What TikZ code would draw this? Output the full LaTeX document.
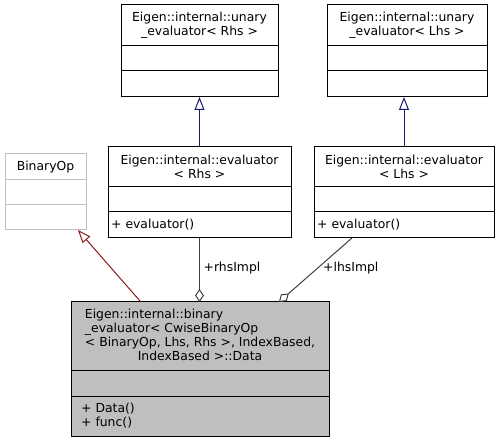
\documentclass[tikz,border=0pt]{standalone}
\usepackage{fontspec}
\setmainfont{DejaVu Sans}
\usetikzlibrary{arrows.meta,calc}
\definecolor{mblue}{HTML}{191970}
\definecolor{fbrick}{HTML}{8B1A1A}
\definecolor{gdark}{HTML}{404040}
\definecolor{glight}{HTML}{BFBFBF}
\begin{document}
\begin{tikzpicture}[x=1pt,y=-1pt,
  font=\fontsize{12.4}{14.2}\selectfont,
  cls/.style={draw=black, line width=1pt, inner sep=0pt, outer sep=0pt, fill=white},
  txt/.style={inner sep=0pt, align=center},
  sep/.style={line width=1pt},
  inh/.style={line width=1pt, -{Triangle[open, length=13pt, width=10pt]}},
  comp/.style={draw=gdark, line width=1pt, -{Diamond[open, length=13pt, width=9pt]}},
  lbl/.style={inner sep=0pt, anchor=west}]
\useasboundingbox (0,0) rectangle (501,443);

% unary evaluator Rhs
\node[cls, minimum width=157pt, minimum height=92pt] (ur) at (199.5,51) {};
\draw[sep] ($(ur.north west)+(0,41)$) -- ($(ur.north east)+(0,41)$);
\draw[sep] ($(ur.north west)+(0,66)$) -- ($(ur.north east)+(0,66)$);
\node[txt] (urt) at (199.5,25.5) {Eigen::internal::unary\\\_evaluator< Rhs >};

% unary evaluator Lhs
\node[cls, minimum width=160pt, minimum height=92pt] (ul) at (407,51) {};
\draw[sep] ($(ul.north west)+(0,41)$) -- ($(ul.north east)+(0,41)$);
\draw[sep] ($(ul.north west)+(0,66)$) -- ($(ul.north east)+(0,66)$);
\node[txt] (ult) at (407,25.5) {Eigen::internal::unary\\\_evaluator< Lhs >};

% evaluator Rhs
\node[cls, minimum width=183pt, minimum height=91pt] (er) at (199.5,192.5) {};
\draw[sep] ($(er.north west)+(0,40)$) -- ($(er.north east)+(0,40)$);
\draw[sep] ($(er.north west)+(0,65)$) -- ($(er.north east)+(0,65)$);
\node[txt] (ert) at (199.5,167) {Eigen::internal::evaluator\\< Rhs >};
\node[lbl] (erm) at (111,225) {+ evaluator()};

% evaluator Lhs
\node[cls, minimum width=180pt, minimum height=91pt] (el) at (404,192.5) {};
\draw[sep] ($(el.north west)+(0,40)$) -- ($(el.north east)+(0,40)$);
\draw[sep] ($(el.north west)+(0,65)$) -- ($(el.north east)+(0,65)$);
\node[txt] (elt) at (404,167) {Eigen::internal::evaluator\\< Lhs >};
\node[lbl] (elm) at (317,225) {+ evaluator()};

% BinaryOp
\node[cls, draw=glight, minimum width=81pt, minimum height=76pt] (bo) at (45.5,192) {};
\draw[sep, glight] ($(bo.north west)+(0,26)$) -- ($(bo.north east)+(0,26)$);
\draw[sep, glight] ($(bo.north west)+(0,51)$) -- ($(bo.north east)+(0,51)$);
\node[txt] (bot) at (45.5,167) {BinaryOp};

% main class
\node[cls, fill=glight, minimum width=258pt, minimum height=135pt] (main) at (200,369.5) {};
\draw[sep] ($(main.north west)+(0,69)$) -- ($(main.north east)+(0,69)$);
\draw[sep] ($(main.north west)+(0,95)$) -- ($(main.north east)+(0,95)$);
\node[txt] (maint) at (200,336.5) {\begin{tabular}{@{}l@{}}Eigen::internal::binary\\
\_evaluator< CwiseBinaryOp\\
< BinaryOp, Lhs, Rhs >, IndexBased,\\
\multicolumn{1}{@{}c@{}}{IndexBased >::Data}\end{tabular}};
\node[lbl, align=left] (mainm) at (81,415.5) {+ Data()\\+ func()};

% inheritance
\draw[inh, mblue] (er.north) -- (ur.south);
\draw[inh, mblue] (el.north) -- (el.north |- ul.south);
\draw[inh, fbrick] ($(main.north west)!0.271!(main.north east)$) -- ($(bo.south west)!0.9!(bo.south east)$);

% composition
\draw[comp] (er.south) -- (er.south |- main.north);
\draw[comp] ($(el.south west)!0.211!(el.south east)$) -- ($(main.north west)!0.806!(main.north east)$);
\node[lbl] (rl) at (203.5,268) {+rhsImpl};
\node[lbl] (ll) at (323,268) {+lhsImpl};
\end{tikzpicture}
\end{document}
